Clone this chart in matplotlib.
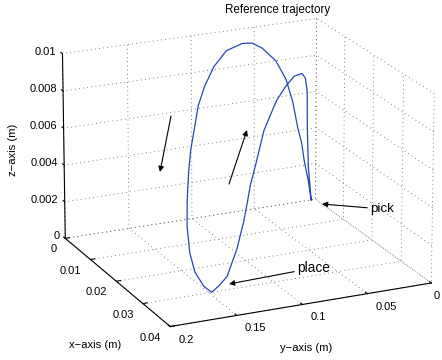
import numpy as np
import matplotlib
matplotlib.use("Agg")
from matplotlib import pyplot as plt
from mpl_toolkits.mplot3d import proj3d

plt.rcParams['font.family'] = ['Liberation Sans', 'DejaVu Sans']
plt.rcParams['font.size'] = 8

#================================  DATA  ================================
# pick -> place (upper arc), then place -> pick (lower arc)
traj_x = [0.0, 0.0, 0.0, 0.0, 0.0, 0.0, 0.0, 0.0, 0.0, 0.0004, 0.0008, 0.0014,
          0.0020, 0.0028, 0.0036, 0.0048, 0.0060, 0.0076, 0.0108, 0.0140, 0.0180,
          0.0220, 0.0272, 0.0300,
          0.0280, 0.0257, 0.0230, 0.0211, 0.0199, 0.0193, 0.0179, 0.0150, 0.0111,
          0.0081, 0.0056, 0.0032, 0.0022, 0.0017, 0.0015, 0.0012, 0.0]
traj_y = [0.0036, 0.0060, 0.0093, 0.0117, 0.0147, 0.0189, 0.0244, 0.0327, 0.0437,
          0.0527, 0.0612, 0.0752, 0.0864, 0.0955, 0.1022, 0.1079, 0.1132, 0.1182,
          0.1262, 0.1330, 0.1393, 0.1438, 0.1480, 0.1478,
          0.1379, 0.1268, 0.1134, 0.1042, 0.0983, 0.0950, 0.0881, 0.0749, 0.0566,
          0.0430, 0.0305, 0.0188, 0.0138, 0.0111, 0.0104, 0.0087, 0.0036]
traj_z = [0.0, 0.0011, 0.0022, 0.0033, 0.0041, 0.0056, 0.0069, 0.0080, 0.0088,
          0.0092, 0.0093, 0.0091, 0.0084, 0.0075, 0.0066, 0.0055, 0.0046, 0.0037,
          0.0025, 0.0015, 0.0006, 0.0001, 0.0, 0.0,
          0.0, 0.0001, 0.0011, 0.0022, 0.0032, 0.0039, 0.0047, 0.0062, 0.0072,
          0.0075, 0.0077, 0.0075, 0.0071, 0.0063, 0.0042, 0.0020, 0.0]

x_ticks = [0, 0.01, 0.02, 0.03, 0.04]
x_labels = ['0', '0.01', '0.02', '0.03', '0.04']
y_ticks = [0, 0.05, 0.1, 0.15, 0.2]
y_labels = ['0', '0.05', '0.1', '0.15', '0.2']
z_ticks = [0, 0.002, 0.004, 0.006, 0.008, 0.01]
z_labels = ['0', '0.002', '0.004', '0.006', '0.008', '0.01']

x_lim = (0, 0.04)
y_lim = (0.2, 0)
z_lim = (0, 0.01)

#================================  PLOT  ================================
fig = plt.figure(figsize=(4.42, 3.6), dpi=100)
ax = fig.add_axes([0.045, 0.021, 1.0, 1.0], projection='3d')
ax.set_proj_type('persp', focal_length=2.2)
ax.set_box_aspect((0.92, 0.97, 0.68), zoom=1.18)
ax.view_init(elev=19.5, azim=-24.5)

ax.plot(traj_x, traj_y, traj_z, color='#2546b8', lw=0.9)

ax.set_xlim(*x_lim)
ax.set_ylim(*y_lim)
ax.set_zlim(*z_lim)
ax.set_xticks(x_ticks)
ax.set_yticks(y_ticks)
ax.set_zticks(z_ticks)
ax.xaxis.set_ticklabels([])
ax.yaxis.set_ticklabels([])
ax.zaxis.set_ticklabels([])

for axis in (ax.xaxis, ax.yaxis, ax.zaxis):
    axis.set_pane_color((1, 1, 1, 0))
    axis.pane.set_edgecolor('none')
    axis.line.set_color('k')
    axis.line.set_linewidth(0.8)
    axis._axinfo['grid']['color'] = '0.35'
    axis._axinfo['grid']['linewidth'] = 0.6
    axis._axinfo['grid']['linestyle'] = (0, (1, 4))
    axis._axinfo['tick']['inward_factor'] = 0.0
    axis._axinfo['tick']['outward_factor'] = 0.2
ax.zaxis.set_ticks_position('upper')

# overlay for title, labels and arrows (pixel coordinates of the figure)
ov = fig.add_axes([0, 0, 1, 1])
ov.set_xlim(0, 442)
ov.set_ylim(360, 0)
ov.axis('off')

# tick labels, placed next to the projected tick positions
fig.canvas.draw()
M = ax.get_proj()

def tick_px(xs, ys, zs):
    px, py, _ = proj3d.proj_transform(np.asarray(xs, float), np.asarray(ys, float),
                                      np.asarray(zs, float), M)
    return ax.transData.transform(np.column_stack([px, py]))

n = len(x_ticks)
for (px, py), lab in zip(tick_px(x_ticks, [y_lim[0]] * n, [0] * n), x_labels):
    ov.annotate(lab, xy=(px, py), xycoords='figure pixels', xytext=(-9, -11),
                textcoords='offset pixels', ha='right', va='center', fontsize=8)
n = len(y_ticks)
for (px, py), lab in zip(tick_px([x_lim[1]] * n, y_ticks, [0] * n), y_labels):
    dx = min(8, 434 - px)   # keep the last label inside the figure
    ov.annotate(lab, xy=(px, py), xycoords='figure pixels', xytext=(dx, -13),
                textcoords='offset pixels', ha='left', va='center', fontsize=8)
n = len(z_ticks)
for (px, py), lab in zip(tick_px([x_lim[0]] * n, [y_lim[0]] * n, z_ticks), z_labels):
    ov.annotate(lab, xy=(px, py), xycoords='figure pixels', xytext=(-6, 2),
                textcoords='offset pixels', ha='right', va='center', fontsize=8)

ov.text(278, 10, 'Reference trajectory', ha='center', va='center', fontsize=8.4)
ov.text(13, 150, 'z\u2212axis (m)', ha='center', va='center', rotation=90, fontsize=8.1)
ov.text(95, 345, 'x\u2212axis (m)', ha='center', va='center', fontsize=8.1)
ov.text(306, 348, 'y\u2212axis (m)', ha='center', va='center', fontsize=8.1)

arw = dict(arrowstyle='-|>', color='k', lw=0.8, mutation_scale=8, shrinkA=0, shrinkB=0)
ov.annotate('', xy=(160, 172), xytext=(171, 116), arrowprops=arw)
ov.annotate('', xy=(247, 130), xytext=(229, 184), arrowprops=arw)
ov.annotate('pick', xy=(322, 204), xytext=(370, 209), ha='left', va='center',
            fontsize=9.6, arrowprops=arw)
ov.annotate('place', xy=(229, 284), xytext=(297, 268), ha='left', va='center',
            fontsize=9.8, arrowprops=arw)

fig.savefig('out.png', dpi=100)
